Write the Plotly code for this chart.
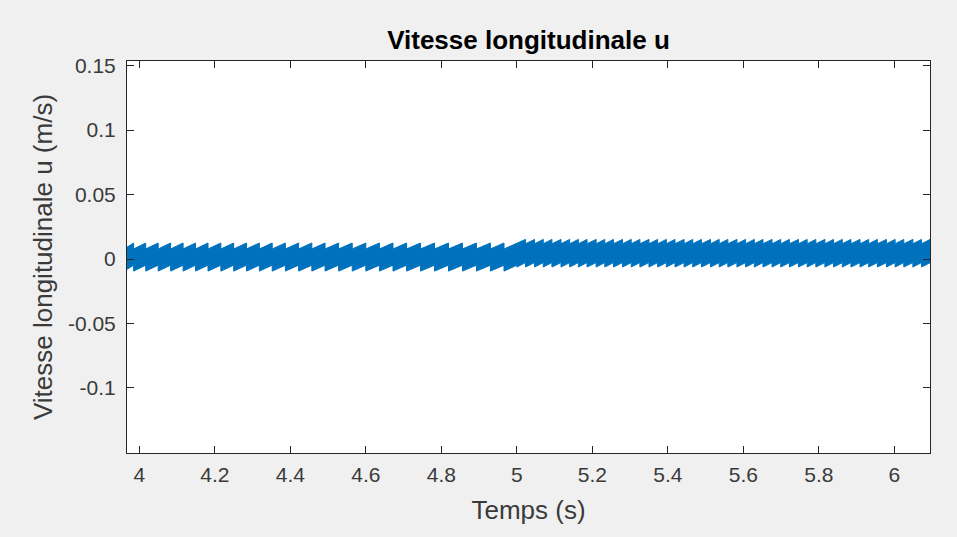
import plotly.graph_objects as go

# ---- data ----
# times (s) at which each sawtooth tooth drops (end of a ramp), before and after the step at t = 5 s
drops_before = [3.985, 4.017, 4.050, 4.083, 4.116, 4.149, 4.182, 4.216, 4.250, 4.284,
                4.318, 4.352, 4.387, 4.422, 4.457, 4.492, 4.528, 4.564, 4.600, 4.636,
                4.672, 4.708, 4.745, 4.782, 4.819, 4.856, 4.893, 4.930, 4.966, 5.000]
drops_after = [5.023, 5.047, 5.070, 5.093, 5.117, 5.140, 5.163, 5.186, 5.210, 5.233,
               5.256, 5.280, 5.303, 5.326, 5.350, 5.373, 5.396, 5.419, 5.443, 5.466,
               5.489, 5.513, 5.536, 5.559, 5.583, 5.606, 5.629, 5.652, 5.676, 5.699,
               5.722, 5.746, 5.769, 5.792, 5.816, 5.839, 5.862, 5.885, 5.909, 5.932,
               5.955, 5.979, 6.002, 6.025, 6.049, 6.072, 6.095]
t_start = 3.96
# envelope of the fast oscillation (m/s): [low edge at tooth start, high edge at tooth start], ramp height
env_before = [-0.0094, 0.0078]
ramp_before = 0.0046
env_after = [-0.0062, 0.0118]
ramp_after = 0.0034

x_ticks = [4, 4.2, 4.4, 4.6, 4.8, 5, 5.2, 5.4, 5.6, 5.8, 6]
x_labels = ["4", "4.2", "4.4", "4.6", "4.8", "5", "5.2", "5.4", "5.6", "5.8", "6"]
y_ticks = [-0.1, -0.05, 0, 0.05, 0.1, 0.15]
y_labels = ["-0.1", "-0.05", "0", "0.05", "0.1", "0.15"]

# ---- build the band outline (upper edge forward, lower edge backward) ----
def edges(start, drops, env, ramp):
    xs, lo, hi = [], [], []
    prev = start
    for d in drops:
        xs += [prev, d]
        lo += [env[0], env[0] + ramp]
        hi += [env[1], env[1] + ramp]
        prev = d
    return xs, lo, hi

x1, lo1, hi1 = edges(t_start, drops_before, env_before, ramp_before)
x2, lo2, hi2 = edges(drops_before[-1], drops_after, env_after, ramp_after)
xs = x1 + x2
lo = lo1 + lo2
hi = hi1 + hi2
poly_x = xs + xs[::-1]
poly_y = hi + lo[::-1]

blue = "#0072BD"
fig = go.Figure()
fig.add_trace(go.Scatter(x=poly_x, y=poly_y, mode="lines", fill="toself",
                         fillcolor=blue, line=dict(color=blue, width=1),
                         hoverinfo="skip", showlegend=False))

font_family = "Liberation Sans, Arial, Helvetica, sans-serif"
axis_common = dict(showgrid=False, zeroline=False, showline=True, linecolor="#262626",
                   linewidth=1, mirror="ticks", ticks="inside", ticklen=7,
                   tickcolor="#262626", tickfont=dict(family=font_family, size=21, color="#3a3a3a"))

fig.update_layout(
    width=957, height=537,
    margin=dict(l=127, r=27, t=61, b=84),
    paper_bgcolor="#F0F0F0", plot_bgcolor="white",
    title=dict(text="<b>Vitesse longitudinale u</b>", x=0.5, xanchor="center",
               xref="paper", y=0.925, yanchor="middle",
               font=dict(family=font_family, size=26, color="black")),
    xaxis=dict(range=[3.9674, 6.0944], tickvals=x_ticks, ticktext=x_labels,
               ticklabelstandoff=3,
               title=dict(text="Temps (s)", font=dict(family=font_family, size=26, color="#3a3a3a"),
                          standoff=15),
               **axis_common),
    yaxis=dict(range=[-0.1504, 0.1535], tickvals=y_ticks, ticktext=y_labels,
               ticklabelstandoff=6,
               title=dict(text="Vitesse longitudinale u (m/s)",
                          font=dict(family=font_family, size=26, color="#3a3a3a"), standoff=7),
               **axis_common),
)

fig.write_html("out.html")
